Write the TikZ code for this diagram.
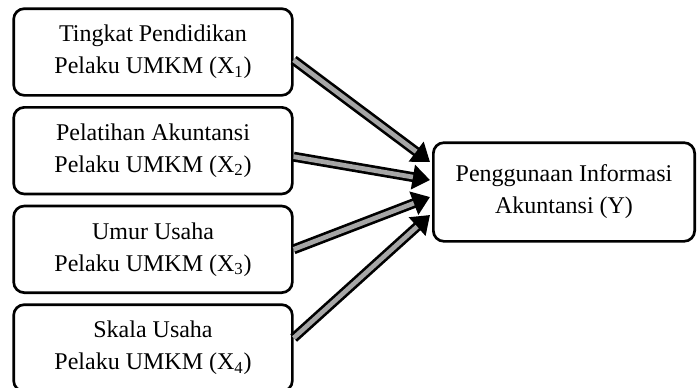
\documentclass[tikz,border=0pt]{standalone}
\usepackage{fontspec}
\setmainfont{Liberation Serif}
\usepackage{tikz}
\usetikzlibrary{
    arrows.meta,
    positioning,
    calc
}
\tikzset{
    varbox/.style={
        rectangle,
        rounded corners=8pt,
        draw=black,
        line width=2pt,
        align=center,
        minimum height=65pt,
        minimum width=209pt,
        font=\fontsize{18}{24}\selectfont
    },
    fatarrow/.style={
        -{Triangle[length=13pt,width=18pt]},
        line width=7.5pt,
        draw=black,
        postaction={draw=gray!70, line width=3.5pt, shorten >=13pt, -}
    }
}

\begin{document}
\begin{tikzpicture}[x=0.75pt, y=-0.75pt, node distance=7pt]
\useasboundingbox (0,0) rectangle (697,387);

\node[varbox] (x1) at (153,52) {Tingkat Pendidikan\\Pelaku UMKM (X\textsubscript{1})};
\node[varbox, below=of x1] (x2) {Pelatihan Akuntansi\\Pelaku UMKM (X\textsubscript{2})};
\node[varbox, below=of x2] (x3) {Umur Usaha\\Pelaku UMKM (X\textsubscript{3})};
\node[varbox, below=of x3] (x4) {Skala Usaha\\Pelaku UMKM (X\textsubscript{4})};

\node[varbox, minimum width=196pt, minimum height=74pt] (y) at (564,192) {Penggunaan Informasi\\Akuntansi (Y)};

% arrow ends on the left side of Y
\coordinate (in1) at ($(y.west)+(-2,-30)$);
\coordinate (in2) at ($(y.west)+(-2,-12)$);
\coordinate (in3) at ($(y.west)+(-2,5)$);
\coordinate (in4) at ($(y.west)+(-2,23)$);

\draw[fatarrow] ($(x1.east)+(0,8)$) -- (in1);
\draw[fatarrow] ($(x2.east)+(0,6)$) -- (in2);
\draw[fatarrow] (x3.east) -- (in3);
\draw[fatarrow] ($(x4.east)+(0,-10)$) -- (in4);
\end{tikzpicture}
\end{document}
